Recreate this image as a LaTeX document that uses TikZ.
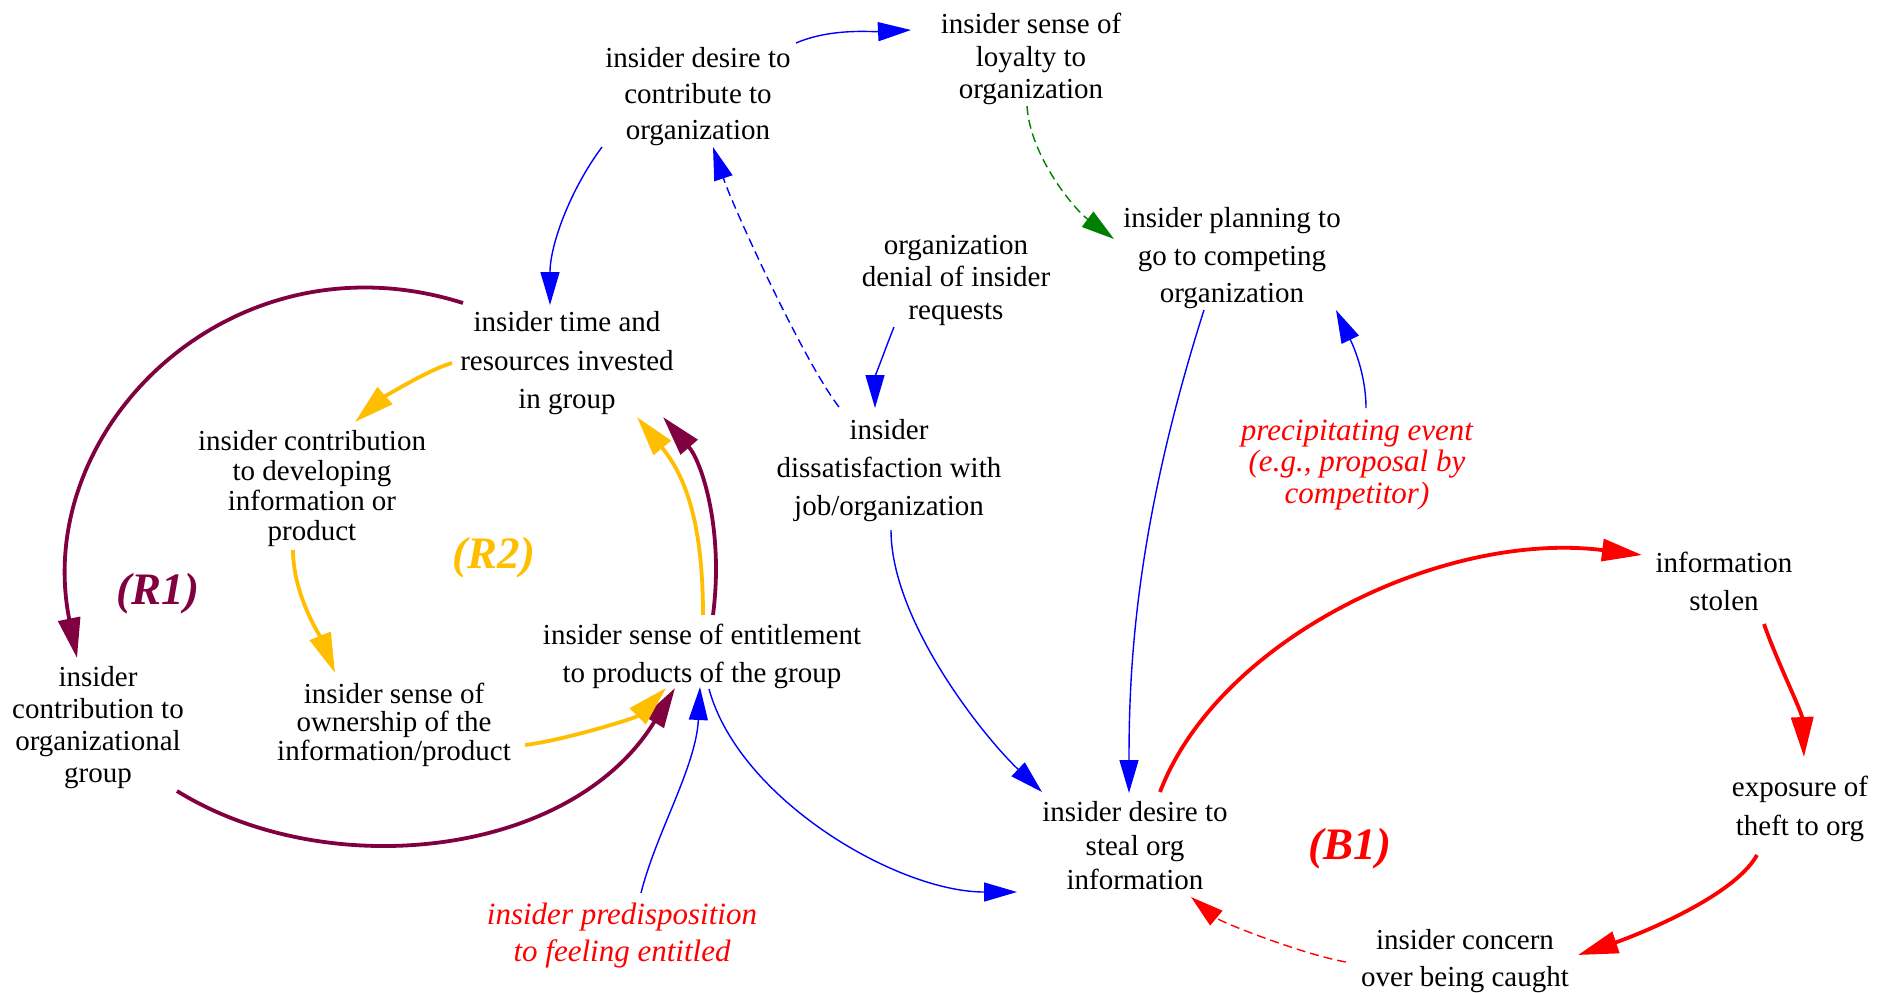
\documentclass[tikz,border=0pt]{standalone}
\usepackage{fontspec}
\setmainfont{Liberation Serif}
\usetikzlibrary{arrows.meta}
\definecolor{cldblue}{RGB}{0,0,255}
\definecolor{cldred}{RGB}{255,0,0}
\definecolor{cldgreen}{RGB}{0,128,0}
\definecolor{cldgold}{RGB}{255,191,0}
\definecolor{cldmaroon}{RGB}{128,0,64}
\begin{document}
\begin{tikzpicture}[x=0.5pt,y=-0.5pt,
  var/.style={align=center, inner sep=0pt,
    font=\fontsize{14.5}{#1}\selectfont,
    execute at begin node=\strut, execute at end node=\strut},
  exo/.style={align=center, inner sep=0pt, text=cldred,
    font=\fontsize{15.5}{#1}\selectfont\itshape,
    execute at begin node=\strut, execute at end node=\strut},
  loopname/.style={inner sep=0pt, text=#1,
    font=\fontsize{22.5}{27}\selectfont\bfseries\itshape},
  flow/.style={draw=#1, line width=0.7pt,
    -{Triangle[length=16.5pt,width=9.5pt]}},
  flow/.default=cldblue,
  loopflow/.style={draw=#1, line width=1.9pt,
    -{Triangle[length=20pt,width=11pt]}},
  delay/.style={dash pattern=on 4.5pt off 2.5pt}]
\useasboundingbox (0,0) rectangle (1881,992);

% variables
\node[var=18]    (dc)      at (698,99)   {insider desire to\\contribute to\\organization};
\node[var=16.25] (loy)     at (1031,61)  {insider sense of\\loyalty to\\organization};
\node[var=18.75] (plan)    at (1232,261) {insider planning to\\go to competing\\organization};
\node[var=16.25] (deny)    at (956,282)  {organization\\denial of insider\\requests};
\node[var=19]    (diss)    at (889,473)  {insider\\dissatisfaction with\\job/organization};
\node[var=19.25] (tr)      at (567,366)  {insider time and\\resources invested\\in group};
\node[var=15]    (dev)     at (312,490)  {insider contribution\\to developing\\information or\\product};
\node[var=16]    (cog)     at (98,729)   {insider\\contribution to\\organizational\\group};
\node[var=14.25] (own)     at (394,726)  {insider sense of\\ownership of the\\information/product};
\node[var=19]    (ent)     at (702,659)  {insider sense of entitlement\\to products of the group};
\node[var=19]    (stolen)  at (1724,587) {information\\stolen};
\node[var=19.5]  (expo)    at (1800,812) {exposure of\\theft to org};
\node[var=17]    (steal)   at (1135,851) {insider desire to\\steal org\\information};
\node[var=18.5]  (concern) at (1465,963) {insider concern\\over being caught};

% external influences
\node[exo=18.5]  (pre) at (622,938)  {insider predisposition\\to feeling entitled};
\node[exo=15.75] (pe)  at (1357,466) {precipitating event\\(e.g., proposal by\\competitor)};

% loop identifiers
\node[loopname=cldmaroon] (r1) at (158,594)  {(R1)};
\node[loopname=cldgold]   (r2) at (494,558)  {(R2)};
\node[loopname=cldred]    (b1) at (1350,849) {(B1)};

% blue causal links
\draw[flow] ([shift={(98,-56)}]dc.center) .. controls +(35,-15) and +(-40,2) .. ([shift={(-120,-31)}]loy.center);
\draw[flow] ([shift={(-96,48)}]dc.center) .. controls +(-32,43) and +(0,-60) .. ([shift={(-17,-61)}]tr.center);
\draw[flow,delay] ([shift={(-50,-66)}]diss.center) .. controls +(-35,-45) and +(20,60) .. ([shift={(15,48)}]dc.center);
\draw[flow] ([shift={(-62,45)}]deny.center) .. controls +(-10,25) and +(0,-30) .. ([shift={(-14,-65)}]diss.center);
\draw[flow=cldgreen,delay] ([shift={(-4,45)}]loy.center) .. controls +(3,50) and +(-40,-30) .. ([shift={(-118,-22)}]plan.center);
\draw[flow] ([shift={(9,-58)}]pe.center) .. controls +(0,-40) and +(12,25) .. ([shift={(104,49)}]plan.center);
\draw[flow] ([shift={(-28,49)}]plan.center) .. controls +(-70,220) and +(0,-120) .. ([shift={(-6,-58)}]steal.center);
\draw[flow] ([shift={(2,57)}]diss.center) .. controls +(0,90) and +(-60,-57) .. ([shift={(-93,-59)}]steal.center);
\draw[flow] ([shift={(7,30)}]ent.center) .. controls +(30,110) and +(-120,0) .. ([shift={(-118,41)}]steal.center);
\draw[flow] ([shift={(19,-45)}]pre.center) .. controls +(15,-60) and +(-4,80) .. ([shift={(-2,28)}]ent.center);

% loop R1
\draw[loopflow=cldmaroon] ([shift={(-104,-63)}]tr.center) .. controls +(-231,-73) and +(-46,-230) .. ([shift={(-21,-71)}]cog.center);
\draw[loopflow=cldmaroon] ([shift={(79,62)}]cog.center) .. controls +(150,93) and +(-104,170) .. ([shift={(-27,29)}]ent.center);
\draw[loopflow=cldmaroon] ([shift={(11,-44)}]ent.center) .. controls +(11,-85) and +(39,45) .. ([shift={(96,51)}]tr.center);

% loop R2
\draw[loopflow=cldgold] ([shift={(-115,-3)}]tr.center) .. controls +(-25,7) and +(25,-22) .. ([shift={(43,-68)}]dev.center);
\draw[loopflow=cldgold] ([shift={(-19,60)}]dev.center) .. controls +(0,45) and +(-14,-35) .. ([shift={(-59,-53)}]own.center);
\draw[loopflow=cldgold] ([shift={(131,19)}]own.center) .. controls +(40,-5) and +(-30,30) .. ([shift={(-36,29)}]ent.center);
\draw[loopflow=cldgold] ([shift={(1,-44)}]ent.center) .. controls +(0,-100) and +(45,55) .. ([shift={(70,51)}]tr.center);

% loop B1
\draw[loopflow=cldred] ([shift={(25,-59)}]steal.center) .. controls +(58,-152) and +(-200,-25) .. ([shift={(-82,-32)}]stolen.center);
\draw[loopflow=cldred] ([shift={(40,37)}]stolen.center) .. controls +(12,35) and +(-2,-45) .. ([shift={(4,-55)}]expo.center);
\draw[loopflow=cldred] ([shift={(-43,43)}]expo.center) .. controls +(-25,45) and +(45,-15) .. ([shift={(113,-8)}]concern.center);
\draw[flow=cldred,delay] ([shift={(-119,-1)}]concern.center) .. controls +(-45,-8) and +(30,25) .. ([shift={(56,46)}]steal.center);
\end{tikzpicture}
\end{document}
